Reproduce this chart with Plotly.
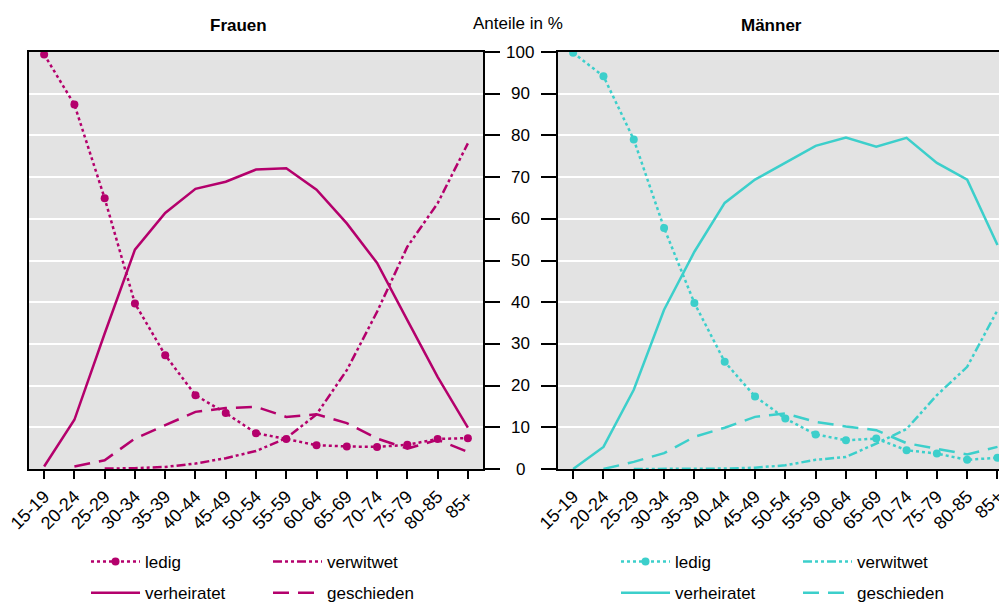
import plotly.graph_objects as go

ages = ["15-19", "20-24", "25-29", "30-34", "35-39", "40-44", "45-49", "50-54",
        "55-59", "60-64", "65-69", "70-74", "75-79", "80-85", "85+"]

# Frauen
f_ledig = [99.4, 87.4, 64.9, 39.7, 27.3, 17.7, 13.4, 8.6, 7.2, 5.7, 5.4, 5.3, 5.8, 7.2, 7.4]
f_verheiratet = [0.6, 11.8, 32.5, 52.6, 61.4, 67.2, 68.9, 71.8, 72.1, 67.0, 58.9, 49.4, 35.7, 22.1, 9.9]
f_verwitwet = [None, None, 0.1, 0.2, 0.5, 1.3, 2.6, 4.3, 7.4, 13.1, 23.7, 37.7, 53.3, 63.7, 78.1]
f_geschieden = [None, 0.6, 2.1, 7.3, 10.5, 13.7, 14.6, 14.9, 12.5, 13.1, 11.0, 7.3, 4.9, 7.0, 4.1]

# Männer
m_ledig = [99.8, 94.2, 79.0, 57.8, 39.8, 25.7, 17.4, 12.1, 8.3, 6.9, 7.3, 4.5, 3.7, 2.2, 2.7]
m_verheiratet = [0.0, 5.3, 19.0, 38.2, 52.1, 63.8, 69.4, 73.4, 77.5, 79.5, 77.3, 79.4, 73.4, 69.4, 53.7]
m_verwitwet = [None, None, 0.0, 0.0, 0.0, 0.1, 0.3, 0.9, 2.2, 2.9, 6.1, 9.6, 17.7, 24.5, 38.1]
m_geschieden = [None, 0.0, 1.7, 3.8, 7.7, 9.9, 12.5, 13.3, 11.3, 10.2, 9.3, 6.2, 4.9, 3.5, 5.3]

y_ticks = [0, 10, 20, 30, 40, 50, 60, 70, 80, 90, 100]

C_F = "#B4006C"
C_M = "#3CCFCB"
FONT = "Liberation Sans, Arial, sans-serif"

W, H = 999, 604

def px(x):
    return x / W

def py(y):
    return (H - y) / H

DASH_VERW = "9px,3px,3px,3px,3px,3px"
DASH_GESCH = "16px,9px"
DASH_LEDIG = "3px,3px"

fig = go.Figure()

def add_panel(xa, ya, color, ledig, verh, verw, gesch, lg1, lg2, pref):
    fig.add_trace(go.Scatter(x=ages, y=ledig, name="ledig", mode="lines+markers",
                             line=dict(color=color, width=2.5, dash=DASH_LEDIG),
                             marker=dict(color=color, size=8),
                             xaxis=xa, yaxis=ya, legend=lg1, legendgroup=pref + "a"))
    fig.add_trace(go.Scatter(x=ages, y=verh, name="verheiratet", mode="lines",
                             line=dict(color=color, width=2.5),
                             xaxis=xa, yaxis=ya, legend=lg1, legendgroup=pref + "b"))
    fig.add_trace(go.Scatter(x=ages, y=verw, name="verwitwet", mode="lines",
                             line=dict(color=color, width=2.5, dash=DASH_VERW),
                             xaxis=xa, yaxis=ya, legend=lg2, legendgroup=pref + "c"))
    fig.add_trace(go.Scatter(x=ages, y=gesch, name="geschieden", mode="lines",
                             line=dict(color=color, width=2.5, dash=DASH_GESCH),
                             xaxis=xa, yaxis=ya, legend=lg2, legendgroup=pref + "d"))

add_panel("x", "y", C_F, f_ledig, f_verheiratet, f_verwitwet, f_geschieden, "legend", "legend2", "f")
add_panel("x2", "y2", C_M, m_ledig, m_verheiratet, m_verwitwet, m_geschieden, "legend3", "legend4", "m")

ydom = [py(469), py(52)]

axis_common = dict(showline=True, linecolor="black", linewidth=2, ticks="outside",
                   tickcolor="black", tickwidth=1.5, zeroline=False, automargin=False,
                   tickfont=dict(family=FONT, size=18, color="black"))

fig.update_layout(
    width=W, height=H,
    margin=dict(l=0, r=0, t=0, b=0, autoexpand=False),
    paper_bgcolor="white",
    plot_bgcolor="#E3E3E3",
    font=dict(family=FONT, size=17, color="black"),
    xaxis=dict(domain=[px(29), px(483)], type="category", range=[-0.5, 14.5],
               tickangle=-45, ticklen=8, mirror=True, anchor="y", showgrid=False,
               **axis_common),
    yaxis=dict(domain=ydom, range=[0, 100], side="right", tickvals=y_ticks,
               showticklabels=False, ticklen=15, mirror=True, anchor="x",
               showgrid=True, gridcolor="white", gridwidth=2, **axis_common),
    xaxis2=dict(domain=[px(558), 1.0], type="category", range=[-0.5, 14.05],
                tickangle=-45, ticklen=8, mirror=True, anchor="y2", showgrid=False,
                **axis_common),
    yaxis2=dict(domain=ydom, range=[0, 100], side="left", tickvals=y_ticks,
                showticklabels=False, ticklen=15, mirror=False, anchor="x2",
                showgrid=True, gridcolor="white", gridwidth=2, **axis_common),
    showlegend=True,
)

leg_common = dict(orientation="v", yanchor="top", y=py(544), xanchor="left",
                  bgcolor="rgba(0,0,0,0)", tracegroupgap=6, itemwidth=49,
                  font=dict(family=FONT, size=17, color="black"))
fig.update_layout(
    legend=dict(x=px(86), **leg_common),
    legend2=dict(x=px(268), **leg_common),
    legend3=dict(x=px(616), **leg_common),
    legend4=dict(x=px(798), **leg_common),
)

annotations = []
for v in y_ticks:
    annotations.append(dict(x=px(520), xref="paper", y=v, yref="y2", text=str(v),
                            showarrow=False, xanchor="center", yanchor="middle",
                            font=dict(family=FONT, size=17, color="black")))
annotations.append(dict(x=px(518), xref="paper", y=py(23), yref="paper",
                        text="Anteile in %", showarrow=False, xanchor="center",
                        yanchor="middle", font=dict(family=FONT, size=17, color="black")))
annotations.append(dict(x=px(238), xref="paper", y=py(25), yref="paper",
                        text="<b>Frauen</b>", showarrow=False, xanchor="center",
                        yanchor="middle", font=dict(family=FONT, size=17, color="black")))
annotations.append(dict(x=px(771), xref="paper", y=py(25), yref="paper",
                        text="<b>Männer</b>", showarrow=False, xanchor="center",
                        yanchor="middle", font=dict(family=FONT, size=17, color="black")))
fig.update_layout(annotations=annotations)

# remove the browser's default 8px page margin so the figure fills the window
fig.write_html("out.html",
               config={"displayModeBar": False},
               post_script="document.body.style.margin='0px';document.body.style.overflow='hidden';")
